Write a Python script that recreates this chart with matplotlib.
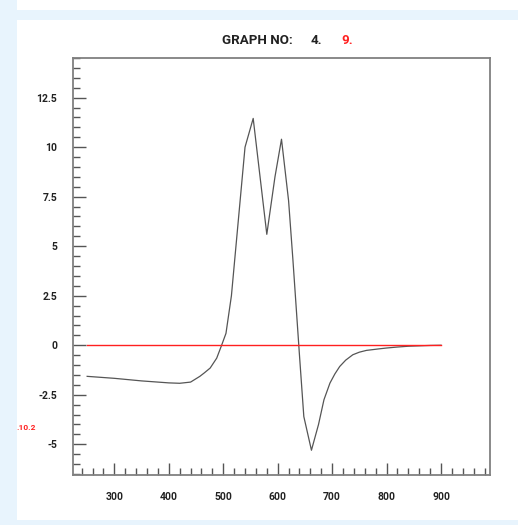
import matplotlib
matplotlib.use("Agg")
import matplotlib.pyplot as plt
from matplotlib.patches import Rectangle
from matplotlib.ticker import MultipleLocator

# spectrum trace
wavelength = [250, 300, 350, 400, 420, 440, 457, 465, 476, 488, 497, 505, 515, 540, 555,
              580, 595, 607, 620, 628, 640, 648, 662, 675, 685, 696, 705, 714, 725, 738,
              750, 763, 787, 800, 820, 840, 860, 880, 900]
signal = [-1.57, -1.67, -1.8, -1.9, -1.92, -1.86, -1.57, -1.4, -1.15, -0.65, 0.0, 0.6, 2.5,
          10.0, 11.45, 5.6, 8.5, 10.4, 7.3, 4.3, -0.5, -3.6, -5.3, -4.0, -2.75, -1.91,
          -1.45, -1.07, -0.75, -0.48, -0.35, -0.26, -0.18, -0.14, -0.09, -0.05, -0.03,
          -0.01, 0.0]

# zero baseline
base_x = [250, 900]
base_y = [0, 0]

yticks = [-5, -2.5, 0, 2.5, 5, 7.5, 10, 12.5]
yticklabels = ["-5", "-2.5", "0", "2.5", "5", "7.5", "10", "12.5"]
xticks = [300, 400, 500, 600, 700, 800, 900]

W, H = 518, 525
fig = plt.figure(figsize=(W / 100, H / 100), dpi=100)
fig.patch.set_facecolor("#e8f4fd")

# white panels behind the axes
for rect in [((17 / W, 5 / H), 1, 1 - 25 / H, "white"),
             ((17 / W, 1 - 10 / H), 1, 10 / H, "white")]:
    fig.patches.append(Rectangle(rect[0], rect[1], rect[2], transform=fig.transFigure,
                                 facecolor=rect[3], edgecolor="none", zorder=-5))

ax = fig.add_axes([73 / W, 1 - 475 / H, (490 - 73) / W, (475 - 58) / H])
ax.plot(wavelength, signal, color="#555555", lw=0.9)
ax.plot(base_x, base_y, color="#ff2020", lw=1.0)

ax.set_xlim(224, 990)
ax.set_ylim(-6.55, 14.5)
ax.set_xticks(xticks)
ax.set_yticks(yticks)
ax.set_yticklabels(yticklabels)
ax.xaxis.set_minor_locator(MultipleLocator(20))
ax.yaxis.set_minor_locator(MultipleLocator(0.5))

for s in ax.spines.values():
    s.set_color("#808080")
    s.set_linewidth(1.3)

lab_font = matplotlib.font_manager.FontProperties(family="Roboto", weight="bold", size=7.5)
for t in ax.get_xticklabels() + ax.get_yticklabels():
    t.set_fontproperties(lab_font)
    t.set_color("#222222")

ax.tick_params(which="major", direction="in", length=9, width=1, color="#555555",
               top=False, right=False)
ax.tick_params(which="minor", direction="in", length=5, width=1, color="#555555",
               top=False, right=False)
ax.tick_params(axis="y", which="major", pad=11.5)
ax.tick_params(axis="x", which="major", pad=12)

title_font = dict(family="Roboto", weight="bold", size=9.6, va="center")
fig.text(222 / W, 1 - 40 / H, "GRAPH NO:", color="#222222", ha="left", **title_font)
fig.text(311 / W, 1 - 40 / H, "4.", color="#222222", ha="left", **title_font)
fig.text(341 / W, 1 - 40 / H, "9.", color="#ff2020", ha="left", **title_font)

fig.text(16 / W, 1 - 428 / H, ".10.2", color="#ff2020", family="Roboto",
         weight="bold", size=6, ha="left", va="center")

fig.savefig("out.png", dpi=100)
